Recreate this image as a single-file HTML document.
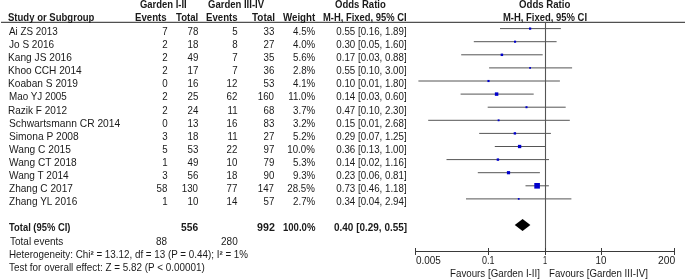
<!DOCTYPE html>
<html><head><meta charset="utf-8"><style>
html,body{margin:0;padding:0;background:#fff;}
body{width:685px;height:279px;position:relative;overflow:hidden;font-family:"Liberation Sans",sans-serif;color:#1a1a1a;}
.r,.b{position:absolute;white-space:nowrap;}
.r{font-size:10.2px;line-height:10.2px;transform:scaleX(0.955);}
.b{font-size:10.2px;line-height:10.2px;font-weight:bold;transform:scaleX(0.92);}
.L{transform-origin:0 0;}
.R{transform-origin:100% 0;}
.C{width:200px;text-align:center;transform-origin:50% 0;}
svg{position:absolute;left:0;top:0;}
#t{position:absolute;left:0;top:0;width:685px;height:279px;will-change:transform;}
</style></head><body>
<svg width="685" height="279" viewBox="0 0 685 279">
<line x1="500.00" y1="28.60" x2="560.90" y2="28.60" stroke="#555" stroke-width="1"/>
<rect x="528.99" y="27.49" width="2.23" height="2.23" fill="#0000cc"/>
<line x1="473.80" y1="41.70" x2="556.60" y2="41.70" stroke="#555" stroke-width="1"/>
<rect x="514.00" y="40.65" width="2.10" height="2.10" fill="#0000cc"/>
<line x1="461.20" y1="54.80" x2="542.70" y2="54.80" stroke="#555" stroke-width="1"/>
<rect x="500.66" y="53.56" width="2.48" height="2.48" fill="#0000cc"/>
<line x1="489.10" y1="67.90" x2="572.10" y2="67.90" stroke="#555" stroke-width="1"/>
<rect x="529.22" y="67.02" width="1.76" height="1.76" fill="#0000cc"/>
<line x1="418.40" y1="81.00" x2="559.90" y2="81.00" stroke="#555" stroke-width="1"/>
<rect x="487.44" y="79.94" width="2.13" height="2.13" fill="#0000cc"/>
<line x1="460.60" y1="94.10" x2="533.70" y2="94.10" stroke="#555" stroke-width="1"/>
<rect x="494.86" y="92.36" width="3.48" height="3.48" fill="#0000cc"/>
<line x1="487.70" y1="107.20" x2="565.70" y2="107.20" stroke="#555" stroke-width="1"/>
<rect x="525.49" y="106.19" width="2.02" height="2.02" fill="#0000cc"/>
<line x1="428.20" y1="120.30" x2="569.80" y2="120.30" stroke="#555" stroke-width="1"/>
<rect x="497.66" y="119.36" width="1.88" height="1.88" fill="#0000cc"/>
<line x1="479.20" y1="133.40" x2="550.90" y2="133.40" stroke="#555" stroke-width="1"/>
<rect x="513.70" y="132.20" width="2.39" height="2.39" fill="#0000cc"/>
<line x1="494.80" y1="146.50" x2="545.60" y2="146.50" stroke="#555" stroke-width="1"/>
<rect x="517.94" y="144.84" width="3.32" height="3.32" fill="#0000cc"/>
<line x1="446.50" y1="159.60" x2="549.00" y2="159.60" stroke="#555" stroke-width="1"/>
<rect x="496.69" y="158.39" width="2.42" height="2.42" fill="#0000cc"/>
<line x1="477.80" y1="172.70" x2="539.90" y2="172.70" stroke="#555" stroke-width="1"/>
<rect x="506.90" y="171.10" width="3.20" height="3.20" fill="#0000cc"/>
<line x1="525.50" y1="185.80" x2="548.90" y2="185.80" stroke="#555" stroke-width="1"/>
<rect x="534.30" y="183.00" width="5.61" height="5.61" fill="#0000cc"/>
<line x1="466.00" y1="198.90" x2="571.40" y2="198.90" stroke="#555" stroke-width="1"/>
<rect x="517.84" y="198.04" width="1.73" height="1.73" fill="#0000cc"/>
<polygon points="514.73,225 522.60,219 530.38,225 522.60,231" fill="#000"/>
<line x1="545.5" y1="23" x2="545.5" y2="251" stroke="#555" stroke-width="1.1"/>
<line x1="1" y1="22.35" x2="685" y2="22.35" stroke="#505050" stroke-width="1.3"/>
<line x1="415.5" y1="251.5" x2="674.5" y2="251.5" stroke="#3a3a3a" stroke-width="1"/>
<line x1="415.5" y1="248.0" x2="415.5" y2="255.0" stroke="#3a3a3a" stroke-width="1"/>
<line x1="488.5" y1="248.0" x2="488.5" y2="255.0" stroke="#3a3a3a" stroke-width="1"/>
<line x1="545.5" y1="248.0" x2="545.5" y2="255.0" stroke="#3a3a3a" stroke-width="1"/>
<line x1="601.5" y1="248.0" x2="601.5" y2="255.0" stroke="#3a3a3a" stroke-width="1"/>
<line x1="674.5" y1="248.0" x2="674.5" y2="255.0" stroke="#3a3a3a" stroke-width="1"/>
</svg>
<div id="t">
<div class="b L" style="left:140.42px;top:0.27px;transform:scaleX(0.9277)">Garden I-II</div>
<div class="b L" style="left:208.42px;top:0.27px;transform:scaleX(0.9343)">Garden III-IV</div>
<div class="b L" style="left:334.92px;top:0.27px;transform:scaleX(0.9347)">Odds Ratio</div>
<div class="b L" style="left:519.11px;top:0.27px;transform:scaleX(0.9459)">Odds Ratio</div>
<div class="b L" style="left:8.31px;top:12.97px;transform:scaleX(0.9362)">Study or Subgroup</div>
<div class="b L" style="left:135.47px;top:12.97px;transform:scaleX(0.9480)">Events</div>
<div class="b L" style="left:176.10px;top:12.97px;transform:scaleX(0.9452)">Total</div>
<div class="b L" style="left:206.37px;top:12.97px;transform:scaleX(0.9449)">Events</div>
<div class="b L" style="left:251.90px;top:12.97px;transform:scaleX(0.9760)">Total</div>
<div class="b L" style="left:282.80px;top:12.97px;transform:scaleX(0.9537)">Weight</div>
<div class="b L" style="left:322.99px;top:12.97px;transform:scaleX(0.9222)">M-H, Fixed, 95% CI</div>
<div class="b L" style="left:503.18px;top:12.97px;transform:scaleX(0.9278)">M-H, Fixed, 95% CI</div>
<div class="r L" style="left:8.75px;top:26.97px;transform:scaleX(0.9674)">Ai ZS 2013</div>
<div class="r R" style="right:517.80px;top:26.97px">7</div>
<div class="r R" style="right:487.00px;top:26.97px">78</div>
<div class="r R" style="right:447.20px;top:26.97px">5</div>
<div class="r R" style="right:410.60px;top:26.97px">33</div>
<div class="r R" style="right:370.00px;top:26.97px">4.5%</div>
<div class="r R" style="right:278.50px;top:26.97px">0.55 [0.16, 1.89]</div>
<div class="r L" style="left:8.65px;top:40.07px;transform:scaleX(0.9848)">Jo S 2016</div>
<div class="r R" style="right:517.80px;top:40.07px">2</div>
<div class="r R" style="right:487.00px;top:40.07px">18</div>
<div class="r R" style="right:447.20px;top:40.07px">8</div>
<div class="r R" style="right:410.60px;top:40.07px">27</div>
<div class="r R" style="right:370.00px;top:40.07px">4.0%</div>
<div class="r R" style="right:278.50px;top:40.07px">0.30 [0.05, 1.60]</div>
<div class="r L" style="left:8.29px;top:53.17px;transform:scaleX(0.9987)">Kang JS 2016</div>
<div class="r R" style="right:517.80px;top:53.17px">2</div>
<div class="r R" style="right:487.00px;top:53.17px">49</div>
<div class="r R" style="right:447.20px;top:53.17px">7</div>
<div class="r R" style="right:410.60px;top:53.17px">35</div>
<div class="r R" style="right:370.00px;top:53.17px">5.6%</div>
<div class="r R" style="right:278.50px;top:53.17px">0.17 [0.03, 0.88]</div>
<div class="r L" style="left:8.49px;top:66.27px;transform:scaleX(0.9941)">Khoo CCH 2014</div>
<div class="r R" style="right:517.80px;top:66.27px">2</div>
<div class="r R" style="right:487.00px;top:66.27px">17</div>
<div class="r R" style="right:447.20px;top:66.27px">7</div>
<div class="r R" style="right:410.60px;top:66.27px">36</div>
<div class="r R" style="right:370.00px;top:66.27px">2.8%</div>
<div class="r R" style="right:278.50px;top:66.27px">0.55 [0.10, 3.00]</div>
<div class="r L" style="left:8.49px;top:79.37px;transform:scaleX(0.9963)">Koaban S 2019</div>
<div class="r R" style="right:517.80px;top:79.37px">0</div>
<div class="r R" style="right:487.00px;top:79.37px">16</div>
<div class="r R" style="right:447.20px;top:79.37px">12</div>
<div class="r R" style="right:410.60px;top:79.37px">53</div>
<div class="r R" style="right:370.00px;top:79.37px">4.1%</div>
<div class="r R" style="right:278.50px;top:79.37px">0.10 [0.01, 1.80]</div>
<div class="r L" style="left:8.51px;top:92.47px;transform:scaleX(0.9659)">Mao YJ 2005</div>
<div class="r R" style="right:517.80px;top:92.47px">2</div>
<div class="r R" style="right:487.00px;top:92.47px">25</div>
<div class="r R" style="right:447.20px;top:92.47px">62</div>
<div class="r R" style="right:410.60px;top:92.47px">160</div>
<div class="r R" style="right:370.00px;top:92.47px">11.0%</div>
<div class="r R" style="right:278.50px;top:92.47px">0.14 [0.03, 0.60]</div>
<div class="r L" style="left:8.30px;top:105.57px;transform:scaleX(0.9838)">Razik F 2012</div>
<div class="r R" style="right:517.80px;top:105.57px">2</div>
<div class="r R" style="right:487.00px;top:105.57px">24</div>
<div class="r R" style="right:447.20px;top:105.57px">11</div>
<div class="r R" style="right:410.60px;top:105.57px">68</div>
<div class="r R" style="right:370.00px;top:105.57px">3.7%</div>
<div class="r R" style="right:278.50px;top:105.57px">0.47 [0.10, 2.30]</div>
<div class="r L" style="left:8.64px;top:118.67px;transform:scaleX(1.0073)">Schwartsmann CR 2014</div>
<div class="r R" style="right:517.80px;top:118.67px">0</div>
<div class="r R" style="right:487.00px;top:118.67px">13</div>
<div class="r R" style="right:447.20px;top:118.67px">16</div>
<div class="r R" style="right:410.60px;top:118.67px">83</div>
<div class="r R" style="right:370.00px;top:118.67px">3.2%</div>
<div class="r R" style="right:278.50px;top:118.67px">0.15 [0.01, 2.68]</div>
<div class="r L" style="left:8.64px;top:131.77px;transform:scaleX(1.0030)">Simona P 2008</div>
<div class="r R" style="right:517.80px;top:131.77px">3</div>
<div class="r R" style="right:487.00px;top:131.77px">18</div>
<div class="r R" style="right:447.20px;top:131.77px">11</div>
<div class="r R" style="right:410.60px;top:131.77px">27</div>
<div class="r R" style="right:370.00px;top:131.77px">5.2%</div>
<div class="r R" style="right:278.50px;top:131.77px">0.29 [0.07, 1.25]</div>
<div class="r L" style="left:8.55px;top:144.87px;transform:scaleX(0.9999)">Wang C 2015</div>
<div class="r R" style="right:517.80px;top:144.87px">5</div>
<div class="r R" style="right:487.00px;top:144.87px">53</div>
<div class="r R" style="right:447.20px;top:144.87px">22</div>
<div class="r R" style="right:410.60px;top:144.87px">97</div>
<div class="r R" style="right:370.00px;top:144.87px">10.0%</div>
<div class="r R" style="right:278.50px;top:144.87px">0.36 [0.13, 1.00]</div>
<div class="r L" style="left:8.55px;top:157.97px;transform:scaleX(0.9959)">Wang CT 2018</div>
<div class="r R" style="right:517.80px;top:157.97px">1</div>
<div class="r R" style="right:487.00px;top:157.97px">49</div>
<div class="r R" style="right:447.20px;top:157.97px">10</div>
<div class="r R" style="right:410.60px;top:157.97px">79</div>
<div class="r R" style="right:370.00px;top:157.97px">5.3%</div>
<div class="r R" style="right:278.50px;top:157.97px">0.14 [0.02, 1.16]</div>
<div class="r L" style="left:8.55px;top:171.07px;transform:scaleX(0.9879)">Wang T 2014</div>
<div class="r R" style="right:517.80px;top:171.07px">3</div>
<div class="r R" style="right:487.00px;top:171.07px">56</div>
<div class="r R" style="right:447.20px;top:171.07px">18</div>
<div class="r R" style="right:410.60px;top:171.07px">90</div>
<div class="r R" style="right:370.00px;top:171.07px">9.3%</div>
<div class="r R" style="right:278.50px;top:171.07px">0.23 [0.06, 0.81]</div>
<div class="r L" style="left:8.80px;top:184.17px;transform:scaleX(0.9890)">Zhang C 2017</div>
<div class="r R" style="right:517.80px;top:184.17px">58</div>
<div class="r R" style="right:487.00px;top:184.17px">130</div>
<div class="r R" style="right:447.20px;top:184.17px">77</div>
<div class="r R" style="right:410.60px;top:184.17px">147</div>
<div class="r R" style="right:370.00px;top:184.17px">28.5%</div>
<div class="r R" style="right:278.50px;top:184.17px">0.73 [0.46, 1.18]</div>
<div class="r L" style="left:8.80px;top:197.27px;transform:scaleX(0.9877)">Zhang YL 2016</div>
<div class="r R" style="right:517.80px;top:197.27px">1</div>
<div class="r R" style="right:487.00px;top:197.27px">10</div>
<div class="r R" style="right:447.20px;top:197.27px">14</div>
<div class="r R" style="right:410.60px;top:197.27px">57</div>
<div class="r R" style="right:370.00px;top:197.27px">2.7%</div>
<div class="r R" style="right:278.50px;top:197.27px">0.34 [0.04, 2.94]</div>
<div class="b L" style="left:9.41px;top:222.97px;transform:scaleX(0.9229)">Total (95% CI)</div>
<div class="b L" style="left:181.49px;top:222.97px;transform:scaleX(1.0049)">556</div>
<div class="b L" style="left:256.53px;top:222.97px;transform:scaleX(1.0482)">992</div>
<div class="b L" style="left:282.58px;top:222.97px;transform:scaleX(0.9374)">100.0%</div>
<div class="b L" style="left:333.50px;top:222.97px;transform:scaleX(0.9777)">0.40 [0.29, 0.55]</div>
<div class="r L" style="left:9.60px;top:236.77px;transform:scaleX(0.9804)">Total events</div>
<div class="r L" style="left:156.45px;top:236.77px;transform:scaleX(0.9756)">88</div>
<div class="r L" style="left:221.40px;top:236.77px;transform:scaleX(0.9835)">280</div>
<div class="r L" style="left:8.71px;top:249.97px;transform:scaleX(0.9644)">Heterogeneity: Chi<b>²</b> = 13.12, df = 13 (P = 0.44); I<b>²</b> = 1%</div>
<div class="r L" style="left:9.30px;top:262.97px;transform:scaleX(0.9702)">Test for overall effect: Z = 5.82 (P &lt; 0.00001)</div>
<div class="r L" style="left:415.50px;top:256.27px;transform:scaleX(0.9763)">0.005</div>
<div class="r L" style="left:481.94px;top:256.27px;transform:scaleX(0.8824)">0.1</div>
<div class="r L" style="left:542.74px;top:256.27px;transform:scaleX(0.7296)">1</div>
<div class="r C" style="left:501.30px;top:256.27px">10</div>
<div class="r L" style="left:657.78px;top:256.27px;transform:scaleX(1.0146)">200</div>
<div class="r L" style="left:450.32px;top:268.97px;transform:scaleX(0.9572)">Favours [Garden I-II]</div>
<div class="r L" style="left:549.22px;top:268.97px;transform:scaleX(0.9540)">Favours [Garden III-IV]</div>
</div>
</body></html>
